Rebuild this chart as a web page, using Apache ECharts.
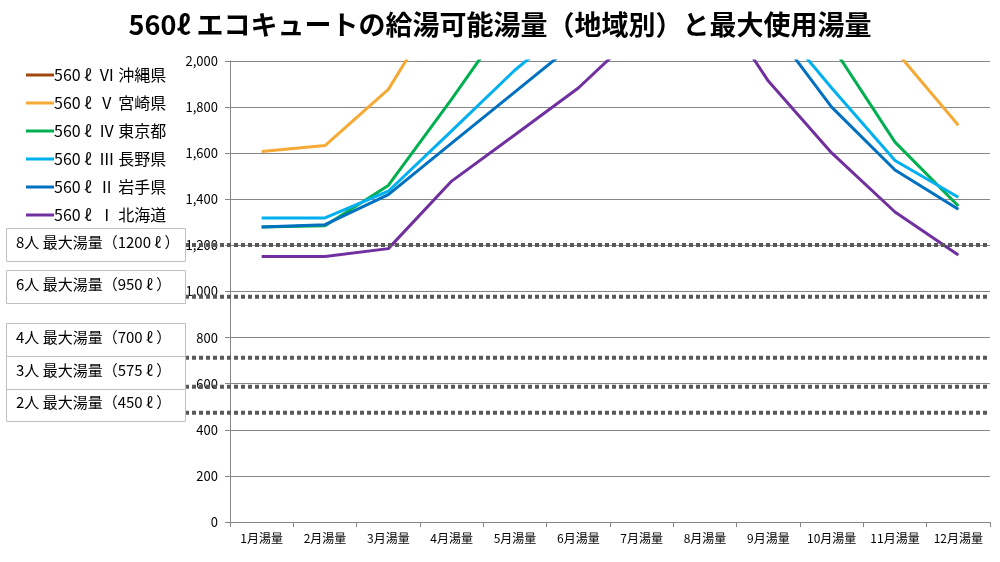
<!DOCTYPE html>
<html>
<head>
<meta charset="utf-8">
<script src="https://cdn.jsdelivr.net/npm/echarts@6/dist/echarts.min.js"></script>
<style>html,body{margin:0;padding:0;background:#fff}#c{width:1000px;height:562px}</style>
</head>
<body>
<div id="c"></div>
<script>
const months = ['1月湯量','2月湯量','3月湯量','4月湯量','5月湯量','6月湯量','7月湯量','8月湯量','9月湯量','10月湯量','11月湯量','12月湯量'];
const seriesNames = ['560 ℓ  Ⅵ 沖縄県','560 ℓ  Ⅴ 宮崎県','560 ℓ  Ⅳ 東京都','560 ℓ  Ⅲ 長野県','560 ℓ  Ⅱ 岩手県','560 ℓ  Ⅰ 北海道'];
const okinawa  = [2050, 2090, 2400, 2750, 3050, 3300, 3450, 3500, 3300, 2900, 2550, 2250];
const miyazaki = [1607, 1633, 1877, 2324, 2650, 2900, 3050, 3100, 2850, 2450, 2047, 1721];
const tokyo    = [1280, 1285, 1460, 1835, 2225, 2500, 2700, 2750, 2500, 2068, 1648, 1371];
const nagano   = [1319, 1319, 1435, 1697, 1961, 2185, 2400, 2450, 2211, 1883, 1568, 1409];
const iwate    = [1280, 1290, 1420, 1644, 1866, 2089, 2300, 2350, 2166, 1800, 1527, 1357];
const hokkaido = [1152, 1152, 1186, 1479, 1680, 1883, 2141, 2328, 1913, 1601, 1345, 1158];
const usageLabels = ['8人 最大湯量（1200 ℓ ）','6人 最大湯量（950 ℓ ）','4人 最大湯量（700 ℓ ）','3人 最大湯量（575 ℓ ）','2人 最大湯量（450 ℓ ）'];
const usageLevels = [1202, 977, 713, 587, 474];
const yTicks = [0, 200, 400, 600, 800, 1000, 1200, 1400, 1600, 1800, 2000];

const colors = ['#9E480E','#F6A935','#00B050','#00B0F0','#0070C0','#7030A0'];
const regionData = [okinawa, miyazaki, tokyo, nagano, iwate, hokkaido];
const FONT = '"Noto Sans CJK JP", "Noto Sans", sans-serif';

const chart = echarts.init(document.getElementById('c'));

const series = seriesNames.map((n, i) => ({
  name: n, type: 'line', data: regionData[i], symbol: 'none',
  xAxisIndex: 0, yAxisIndex: 0,
  lineStyle: { width: 3, color: colors[i] }, itemStyle: { color: colors[i] },
  z: 3
}));
usageLevels.forEach((v, i) => {
  series.push({
    name: usageLabels[i], type: 'line', xAxisIndex: 1, yAxisIndex: 1,
    data: [[0, v], [1, v]], symbol: 'none', silent: true,
    lineStyle: { width: 4, color: '#595959', type: [4, 3] }, z: 4
  });
});

// annotation boxes (layout only)
const boxes = [
  { y: 228, h: 33 }, { y: 270, h: 33 }, { y: 323, h: 33 }, { y: 356, h: 33 }, { y: 389, h: 32 }
];
const graphic = [];
boxes.forEach((b, i) => {
  graphic.push({ type: 'rect', left: 6, top: b.y, shape: { width: 179, height: b.h },
    style: { fill: '#fff', stroke: '#BFBFBF', lineWidth: 1 }, z: 10 });
  graphic.push({ type: 'text', left: 16, top: b.y + b.h / 2 - 10,
    style: { text: usageLabels[i], font: '15px ' + FONT, fill: '#000' }, z: 11 });
});

chart.setOption({
  animation: false,
  textStyle: { fontFamily: FONT },
  title: {
    text: '560ℓ エコキュートの給湯可能湯量（地域別）と最大使用湯量',
    left: 'center', top: 6,
    textStyle: { fontSize: 27, fontWeight: 'bold', color: '#000', fontFamily: FONT }
  },
  legend: {
    data: seriesNames, orient: 'vertical', left: 21, top: 62,
    icon: 'rect', itemWidth: 28, itemHeight: 3, itemGap: 12,
    textStyle: { fontSize: 16, color: '#000', fontFamily: FONT, padding: [0, 0, 0, -5] },
    selectedMode: false
  },
  grid: [
    { left: 230, right: 10, top: 61, bottom: 40 },
    { left: 185, right: 13, top: 61, bottom: 40 }
  ],
  xAxis: [
    { type: 'category', data: months, gridIndex: 0, boundaryGap: true,
      axisLine: { lineStyle: { color: '#868686' } },
      axisTick: { show: true, length: 5, lineStyle: { color: '#868686' } },
      axisLabel: { fontSize: 12, color: '#000', margin: 10, interval: 0 },
      splitLine: { show: false } },
    { type: 'value', gridIndex: 1, min: 0, max: 1, show: false }
  ],
  yAxis: [
    { type: 'value', gridIndex: 0, min: 0, max: 2000, interval: 200,
      axisLine: { show: true, lineStyle: { color: '#868686' } },
      axisTick: { show: true, length: 5, lineStyle: { color: '#868686' } },
      axisLabel: { fontSize: 13, color: '#000', margin: 12,
        formatter: v => v.toLocaleString('en-US') },
      splitLine: { show: true, lineStyle: { color: '#868686', width: 1 } } },
    { type: 'value', gridIndex: 1, min: 0, max: 2000, show: false }
  ],
  graphic: graphic,
  series: series
});
</script>
</body>
</html>
